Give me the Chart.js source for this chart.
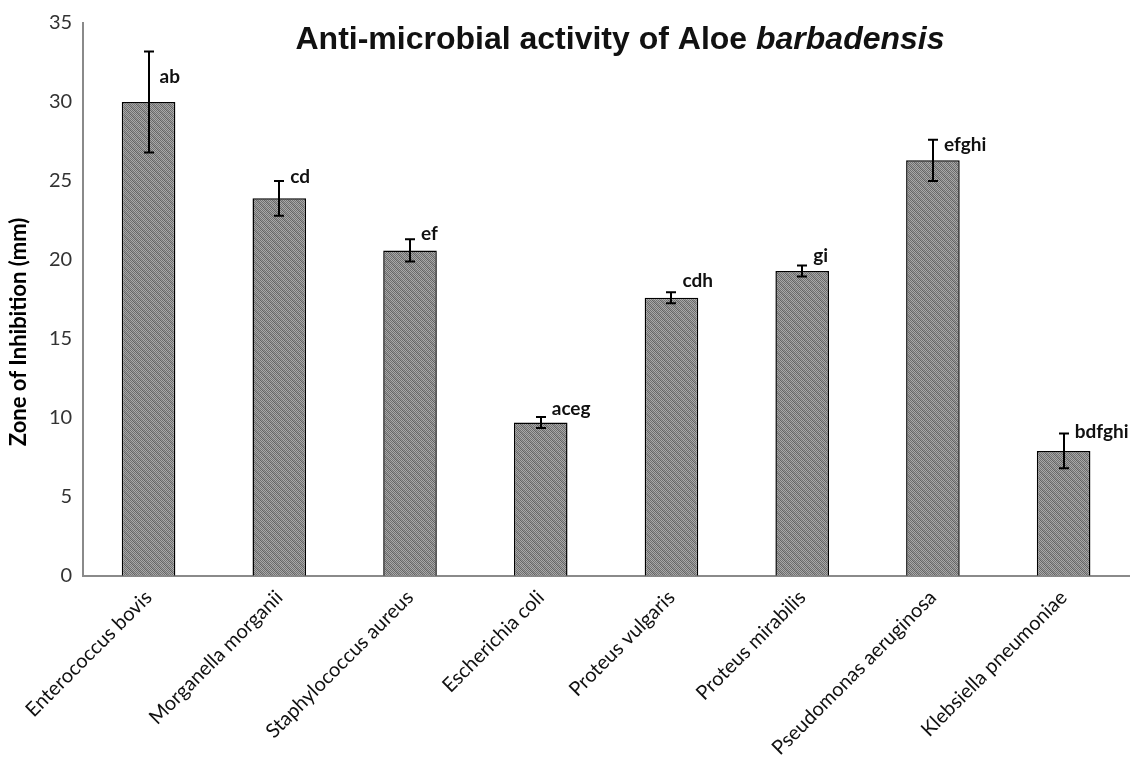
<!DOCTYPE html>
<html>
<head>
<meta charset="utf-8">
<script src="https://cdn.jsdelivr.net/npm/chart.js@4/dist/chart.umd.min.js"></script>
<style>
  html, body { margin: 0; padding: 0; background: #fff; }
  #wrap { width: 1137px; height: 776px; }
</style>
</head>
<body>
<div id="wrap"><canvas id="c" width="1137" height="776"></canvas></div>
<script>
// Zone of inhibition (mm) per organism, with standard error and significance letters
const organisms = [
  'Enterococcus bovis', 'Morganella morganii', 'Staphylococcus aureus', 'Escherichia coli',
  'Proteus vulgaris', 'Proteus mirabilis', 'Pseudomonas aeruginosa', 'Klebsiella pneumoniae'
];
const inhibitionMm = [30.0, 23.9, 20.6, 9.7, 17.6, 19.3, 26.3, 7.9];
const errorMm = [3.2, 1.1, 0.7, 0.35, 0.35, 0.35, 1.3, 1.1];
const groupLetters = ['ab', 'cd', 'ef', 'aceg', 'cdh', 'gi', 'efghi', 'bdfghi'];
const yTicks = [0, 5, 10, 15, 20, 25, 30, 35];
const yAxisTitle = 'Zone of Inhibition (mm)';

// Grey dotted fill with faint diagonal hatching
function makePattern() {
  const p = document.createElement('canvas');
  p.width = 8; p.height = 8;
  const g = p.getContext('2d');
  for (let y = 0; y < 8; y++) {
    for (let x = 0; x < 8; x++) {
      const dot = (x + y) % 2 === 0;
      let c = dot ? '#707070' : '#a9a9a9';
      const d = ((x - y) % 8 + 8) % 8;
      if (d === 0 || d === 1) c = dot ? '#636363' : '#979797';
      g.fillStyle = c;
      g.fillRect(x, y, 1, 1);
    }
  }
  return document.getElementById('c').getContext('2d').createPattern(p, 'repeat');
}

const errorBars = {
  id: 'errorBars',
  afterDatasetsDraw(chart) {
    const ctx = chart.ctx;
    const ys = chart.scales.y;
    const meta = chart.getDatasetMeta(0);
    ctx.save();
    ctx.strokeStyle = '#000';
    ctx.lineWidth = 2;
    meta.data.forEach((bar, i) => {
      const v = inhibitionMm[i], e = errorMm[i];
      const yt = ys.getPixelForValue(v + e);
      const yb = ys.getPixelForValue(v - e);
      const x = Math.round(bar.x);
      ctx.beginPath();
      ctx.moveTo(x, yt); ctx.lineTo(x, yb);
      ctx.moveTo(x - 5, yt); ctx.lineTo(x + 5, yt);
      ctx.moveTo(x - 5, yb); ctx.lineTo(x + 5, yb);
      ctx.stroke();
    });
    ctx.restore();
  }
};

const letterLabels = {
  id: 'letterLabels',
  afterDatasetsDraw(chart, args, opts) {
    const ctx = chart.ctx;
    const ys = chart.scales.y;
    const meta = chart.getDatasetMeta(0);
    ctx.save();
    ctx.fillStyle = '#111';
    ctx.font = 'bold 19px Lato, "Open Sans", sans-serif';
    ctx.textAlign = 'left';
    ctx.textBaseline = 'middle';
    meta.data.forEach((bar, i) => {
      const y = ys.getPixelForValue(inhibitionMm[i] + errorMm[i]) + opts.dy[i];
      ctx.fillText(groupLetters[i], bar.x + opts.dx, y);
    });
    ctx.restore();
  }
};

const chartTexts = {
  id: 'chartTexts',
  afterDraw(chart, args, opts) {
    const ctx = chart.ctx;
    ctx.save();
    ctx.fillStyle = '#111';
    ctx.textBaseline = 'middle';
    const a = 'Anti-microbial activity of Aloe ';
    const b = 'barbadensis';
    const fa = 'bold 32px "Liberation Sans", Arial, sans-serif';
    const fb = 'italic bold 32px "Liberation Sans", Arial, sans-serif';
    ctx.font = fa; const wa = ctx.measureText(a).width;
    ctx.font = fb; const wb = ctx.measureText(b).width;
    const x = opts.titleX - (wa + wb) / 2;
    ctx.font = fa; ctx.fillText(a, x, opts.titleY);
    ctx.font = fb; ctx.fillText(b, x + wa, opts.titleY);

    // vertical axis title
    ctx.translate(opts.axisX, opts.axisY);
    ctx.rotate(-Math.PI / 2);
    ctx.textAlign = 'center';
    ctx.fillStyle = '#000';
    ctx.font = 'bold 22px Lato, "Open Sans", sans-serif';
    ctx.fillText(yAxisTitle, 0, 0);
    ctx.restore();
  }
};

new Chart(document.getElementById('c'), {
  type: 'bar',
  data: {
    labels: organisms,
    datasets: [{
      data: inhibitionMm,
      backgroundColor: makePattern(),
      borderColor: '#000',
      borderWidth: 1.5,
      barPercentage: 0.41,
      categoryPercentage: 1.0
    }]
  },
  options: {
    responsive: false,
    animation: false,
    layout: { padding: { top: 10, right: 8, left: 38, bottom: 6 } },
    plugins: {
      legend: { display: false },
      tooltip: { enabled: false },
      title: { display: false },
      errorBars: {},
      letterLabels: { dx: 11, dy: [25, -4, -5, -8, -11, -10, 5, -2] },
      chartTexts: { titleX: 620, titleY: 40, axisX: 19, axisY: 332 }
    },
    scales: {
      x: {
        grid: { display: false, drawTicks: false },
        border: { display: true, color: '#8a8a8a', width: 2 },
        ticks: {
          color: '#111',
          font: { family: 'Lato, "Open Sans", sans-serif', size: 20 },
          maxRotation: 45, minRotation: 45, padding: 10, autoSkip: false
        }
      },
      y: {
        min: 0, max: 35,
        afterBuildTicks(scale) { scale.ticks = yTicks.map(v => ({ value: v })); },
        grid: { display: false, drawTicks: false },
        border: { display: true, color: '#8a8a8a', width: 2 },
        ticks: {
          color: '#333',
          font: { family: 'Lato, "Open Sans", sans-serif', size: 20 },
          padding: 11
        }
      }
    }
  },
  plugins: [errorBars, letterLabels, chartTexts]
});
</script>
</body>
</html>
